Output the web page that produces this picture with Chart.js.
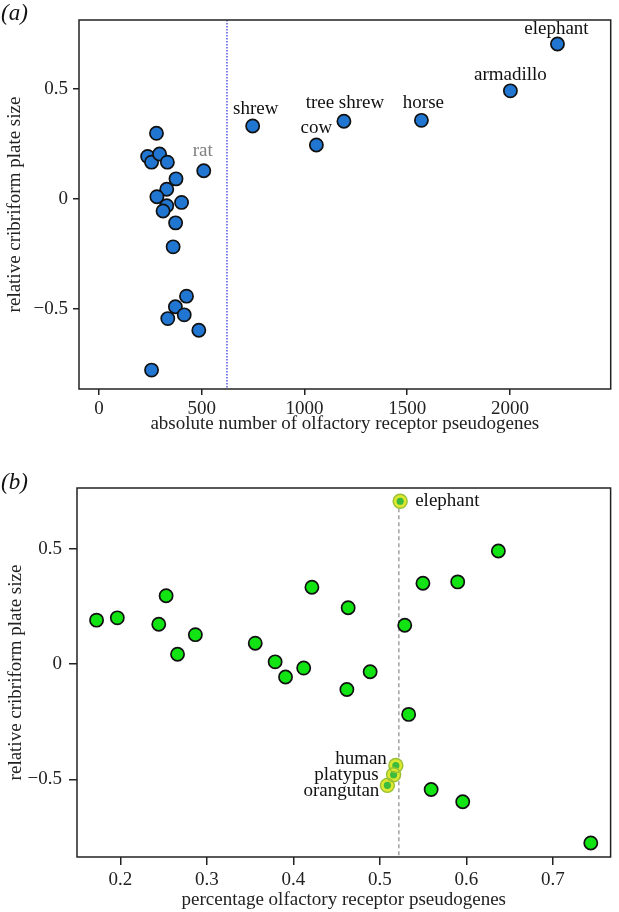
<!DOCTYPE html>
<html>
<head>
<meta charset="utf-8">
<script src="https://cdn.jsdelivr.net/npm/chart.js@4"></script>
<style>
body{margin:0;background:#fff;width:619px;height:912px;overflow:hidden;position:relative}
canvas{position:absolute;left:0}
#chartA{top:0}
#chartB{top:445px}
</style>
</head>
<body>
<canvas id="chartA" width="619" height="445"></canvas>
<canvas id="chartB" width="619" height="467"></canvas>
<script>
// (a) absolute number of OR pseudogenes
const absX = [280, 237, 256, 295, 333, 375, 330, 282, 402, 330, 312, 373, 361, 426, 372, 335, 415, 486, 256, 510, 748, 1058, 1192, 1569, 2002, 2231];
const absY = [0.297, 0.192, 0.166, 0.203, 0.166, 0.090, 0.043, 0.009, -0.017, -0.032, -0.056, -0.110, -0.219, -0.443, -0.491, -0.545, -0.528, -0.598, -0.779, 0.127, 0.330, 0.244, 0.352, 0.356, 0.490, 0.703];
const absNames = ["", "", "", "", "", "", "", "", "", "", "", "", "", "", "", "", "", "", "", "rat", "shrew", "cow", "tree shrew", "horse", "armadillo", "elephant"];
const absTicks = [0, 500, 1000, 1500, 2000];
const absCutoff = 623;

// (b) percentage of OR pseudogenes
const pctX = [0.1726, 0.1966, 0.2445, 0.253, 0.2868, 0.2662, 0.356, 0.379, 0.391, 0.412, 0.4215, 0.4634, 0.4619, 0.4888, 0.5333, 0.5288, 0.5498, 0.590, 0.637, 0.5593, 0.5958, 0.7438];
const pctY = [0.191, 0.201, 0.173, 0.297, 0.128, 0.043, 0.091, 0.010, -0.056, -0.017, 0.334, 0.245, -0.110, -0.033, -0.218, 0.169, 0.351, 0.357, 0.491, -0.544, -0.597, -0.776];
const hlX = [0.5235, 0.5185, 0.5159, 0.5087];
const hlY = [0.707, -0.440, -0.480, -0.526];
const hlNames = ["elephant", "human", "platypus", "orangutan"];
const pctTicks = [0.2, 0.3, 0.4, 0.5, 0.6, 0.7];
const pctCutoff = 0.522;

const yTicks = [-0.5, 0, 0.5];
const yTitle = "relative cribriform plate size";

const serif = '"Liberation Serif", "DejaVu Serif", serif';
const ink = "#222";

// where each name sits relative to its point (baseline offsets)
const placeA = {
    "rat": {dx: -1, dy: -15, align: "center", color: "#808080"},
    "shrew": {dx: 3, dy: -12},
    "cow": {dx: 0, dy: -12},
    "tree shrew": {dx: 1, dy: -13},
    "horse": {dx: 2, dy: -12},
    "armadillo": {dx: 0, dy: -11},
    "elephant": {dx: -1, dy: -10}
};
const placeB = {
    "elephant": {dx: 15, dy: 5, align: "left"},
    "human": {dx: -9, dy: -2, align: "right"},
    "platypus": {dx: -15, dy: 5, align: "right"},
    "orangutan": {dx: -8, dy: 11, align: "right"}
};

function fmt(v){ return v < 0 ? "\u2212" + Math.abs(v) : String(v); }
function pts(xs, ys){ return xs.map((x, i) => ({x, y: ys[i]})); }

const frame = {
    id: "frame",
    beforeDatasetsDraw(chart, args, o){
        const {ctx, chartArea: a, scales} = chart;
        const px = scales.x.getPixelForValue(o.cutoff);
        const top = o.cutoffFrom === undefined ? a.top : scales.y.getPixelForValue(o.cutoffFrom);
        ctx.save();
        ctx.strokeStyle = o.cutoffColor;
        ctx.lineWidth = o.cutoffWidth;
        ctx.setLineDash(o.cutoffDash);
        ctx.beginPath(); ctx.moveTo(px, top); ctx.lineTo(px, a.bottom); ctx.stroke();
        ctx.restore();
    },
    afterDraw(chart, args, o){
        const {ctx, chartArea: a} = chart;
        ctx.save();
        ctx.strokeStyle = ink; ctx.lineWidth = 1.5;
        ctx.strokeRect(a.left, a.top, a.right - a.left, a.bottom - a.top);

        ctx.font = "19px " + serif;
        ctx.textBaseline = "alphabetic";
        chart.data.datasets.forEach((ds, di) => {
            if(!ds.names) return;
            const meta = chart.getDatasetMeta(di);
            ds.names.forEach((n, i) => {
                if(!n) return;
                const p = o.place[n] || {dx: 0, dy: -12};
                const el = meta.data[i];
                ctx.fillStyle = p.color || "#111";
                ctx.textAlign = p.align || "center";
                ctx.fillText(n, el.x + p.dx, el.y + p.dy);
            });
        });

        ctx.font = "italic 23px " + serif;
        ctx.fillStyle = "#111";
        ctx.textAlign = "left";
        ctx.textBaseline = "middle";
        ctx.fillText(o.panel, 1, o.panelY);
        ctx.restore();
    }
};

function axes(cfg){
    return {
        x: {
            type: "linear", min: cfg.xMin, max: cfg.xMax,
            afterBuildTicks: s => { s.ticks = cfg.xTicks.map(v => ({value: v})); },
            afterFit: s => { s.height = cfg.xHeight; },
            grid: {drawOnChartArea: false, drawTicks: true, tickLength: cfg.tickLen, color: ink, lineWidth: 1.5},
            border: {display: false},
            ticks: {font: {family: serif, size: 19}, color: ink, padding: cfg.xPad, maxRotation: 0, callback: v => String(v)},
            title: {display: true, text: cfg.xTitle, font: {family: serif, size: 19}, color: ink, padding: {top: 0, bottom: cfg.xTitlePad}}
        },
        y: {
            type: "linear", min: cfg.yMin, max: cfg.yMax,
            afterBuildTicks: s => { s.ticks = yTicks.map(v => ({value: v})); },
            afterFit: s => { s.width = cfg.yWidth; },
            grid: {drawOnChartArea: false, drawTicks: true, tickLength: cfg.tickLen, color: ink, lineWidth: 1.5},
            border: {display: false},
            ticks: {font: {family: serif, size: 19}, color: ink, padding: cfg.yPad, callback: v => fmt(v)},
            title: {display: true, text: yTitle, font: {family: serif, size: 19}, color: ink, padding: {top: cfg.yTitlePad, bottom: 0}}
        }
    };
}

new Chart(document.getElementById("chartA"), {
    type: "scatter",
    data: {
        datasets: [{
            data: pts(absX, absY),
            names: absNames,
            pointRadius: 6.6,
            pointBackgroundColor: "#2176d2",
            pointBorderColor: "#111",
            pointBorderWidth: 1.7
        }]
    },
    options: {
        responsive: false,
        animation: false,
        events: [],
        layout: {padding: {top: 20, right: 2, left: 0, bottom: 0}},
        plugins: {
            legend: {display: false},
            tooltip: {enabled: false},
            frame: {
                cutoff: absCutoff, cutoffColor: "#2b2bd8", cutoffWidth: 1.2, cutoffDash: [1.5, 1.5],
                place: placeA, panel: "(a)", panelY: 14
            }
        },
        scales: axes({
            xMin: -97, xMax: 2490, yMin: -0.865, yMax: 0.812,
            xTicks: absTicks, xHeight: 56, yWidth: 79, tickLen: 6,
            xPad: 3, yPad: 5, xTitlePad: 10, yTitlePad: 4,
            xTitle: "absolute number of olfactory receptor pseudogenes"
        })
    },
    plugins: [frame]
});

new Chart(document.getElementById("chartB"), {
    type: "scatter",
    data: {
        datasets: [{
            data: pts(hlX, hlY),
            pointRadius: 7,
            pointBackgroundColor: "rgba(0,0,0,0)",
            pointBorderColor: "#98c030",
            pointBorderWidth: 1.4,
            order: 0
        }, {
            data: pts(hlX, hlY),
            names: hlNames,
            pointRadius: 5.2,
            pointBackgroundColor: "#3dbb3d",
            pointBorderColor: "#dce830",
            pointBorderWidth: 3.2,
            order: 1
        }, {
            data: pts(pctX, pctY),
            pointRadius: 6.6,
            pointBackgroundColor: "#12e312",
            pointBorderColor: "#111",
            pointBorderWidth: 1.7,
            order: 2
        }]
    },
    options: {
        responsive: false,
        animation: false,
        events: [],
        layout: {padding: {top: 43, right: 2, left: 0, bottom: 0}},
        plugins: {
            legend: {display: false},
            tooltip: {enabled: false},
            frame: {
                cutoff: pctCutoff, cutoffFrom: hlY[0], cutoffColor: "#8a8a8a", cutoffWidth: 1.2, cutoffDash: [4, 3],
                place: placeB, panel: "(b)", panelY: 38
            }
        },
        scales: axes({
            xMin: 0.150, xMax: 0.7667, yMin: -0.837, yMax: 0.7645,
            xTicks: pctTicks, xHeight: 55, yWidth: 77, tickLen: 8,
            xPad: 4, yPad: 7, xTitlePad: 1, yTitlePad: 5,
            xTitle: "percentage olfactory receptor pseudogenes"
        })
    },
    plugins: [frame]
});
</script>
</body>
</html>
